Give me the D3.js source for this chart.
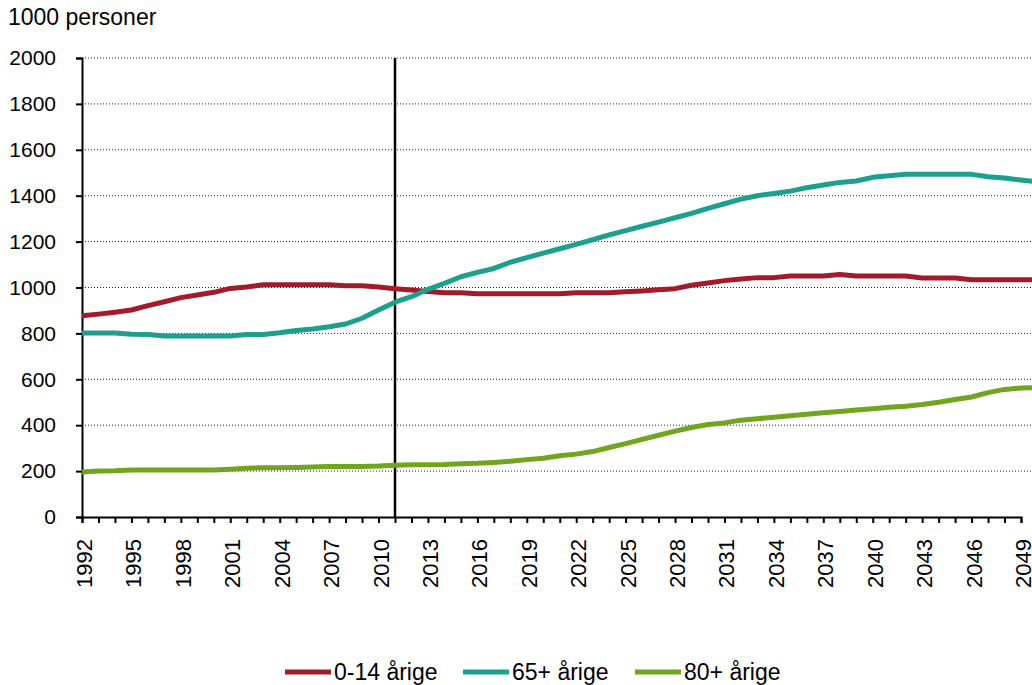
<!DOCTYPE html>
<html><head><meta charset="utf-8">
<script src="https://d3js.org/d3.v7.min.js"></script>
<style>body{margin:0;background:#fff}svg{display:block;font-family:"Liberation Sans",Arial,sans-serif}</style>
</head><body><svg id="c" width="1032" height="685"></svg>
<script>
const years = d3.range(1992, 2051);
const age0_14 = [877,884,892,902,921,938,956,967,979,996,1002,1012,1012,1012,1012,1012,1008,1008,1002,995,
  989,983,977,977,973,973,973,973,973,973,977,977,977,981,985,990,995,1010,1020,1030,1037,1043,1043,1050,1050,1050,1057,1050,1050,1050,1050,1041,1041,1041,1034,1034,1034,1034,1034];
const age65 = [802,802,802,796,795,789,789,789,789,789,795,795,803,813,819,829,841,866,902,936,
  960,992,1018,1047,1066,1083,1110,1130,1150,1169,1188,1208,1229,1248,1267,1285,1304,1323,1345,1365,1385,1400,1410,1420,1435,1447,1458,1464,1480,1487,1493,1493,1493,1493,1493,1483,1477,1468,1460];
const age80 = [196,200,201,205,205,205,205,205,205,208,212,215,215,216,218,220,220,220,222,226,
  228,228,229,232,234,238,243,250,256,267,274,285,303,320,338,356,374,390,403,410,422,428,435,441,448,454,460,466,472,478,483,490,500,512,523,542,556,562,563];
const seriesNames = ["0-14 årige","65+ årige","80+ årige"];
const seriesColors = ["#A31A2A","#1BA08E","#72A51E"];
const yTicks = [0,200,400,600,800,1000,1200,1400,1600,1800,2000];
const xLabelYears = d3.range(1992, 2050, 3);
const markerYear = 2011;

const svg = d3.select("#c");
const x = d3.scaleLinear().domain([1992, 2049]).range([82, 1021]);
const y = d3.scaleLinear().domain([0, 2000]).range([517, 58]);

// gridlines
svg.append("g").selectAll("line").data(yTicks.filter(d=>d>0)).join("line")
  .attr("x1", 82).attr("x2", 1032).attr("y1", d=>y(d)).attr("y2", d=>y(d))
  .attr("stroke", "#222").attr("stroke-width", 1).attr("stroke-dasharray", "1,2");

// y axis
const yAxis = svg.append("g").attr("transform", "translate(82,0)")
  .call(d3.axisLeft(y).tickValues(yTicks).tickSize(6).tickPadding(20).tickFormat(d3.format("d")));
yAxis.select(".domain").attr("stroke", "#000").attr("stroke-width", 2);
yAxis.selectAll(".tick line").attr("stroke", "#000").attr("stroke-width", 2);
yAxis.selectAll("text").attr("font-size", 21).attr("fill", "#000").attr("font-family", "Liberation Sans, Arial, sans-serif");

// x axis
const xAxis = svg.append("g").attr("transform", "translate(0,517)")
  .call(d3.axisBottom(x).tickValues(d3.range(1992, 2051)).tickSize(6).tickFormat(""));
xAxis.select(".domain").attr("stroke", "#000").attr("stroke-width", 2);
xAxis.selectAll(".tick line").attr("stroke", "#000").attr("stroke-width", 2);
svg.append("g").selectAll("text").data(xLabelYears).join("text")
  .attr("transform", d=>`translate(${x(d)+10},539) rotate(-90)`)
  .attr("text-anchor", "end").attr("font-size", 22).attr("fill", "#000")
  .text(d=>d);

// vertical marker
svg.append("line").attr("x1", x(markerYear)).attr("x2", x(markerYear))
  .attr("y1", y(2000)).attr("y2", y(0)).attr("stroke", "#000").attr("stroke-width", 2.5);

// lines
const line = d3.line().x((d,i)=>x(years[i])).y(d=>y(d));
[age0_14, age65, age80].forEach((s, k) => {
  svg.append("path").datum(s).attr("d", line).attr("fill", "none")
    .attr("stroke", seriesColors[k]).attr("stroke-width", 5).attr("stroke-linejoin", "round");
});

// title
svg.append("text").attr("x", 8).attr("y", 25).attr("font-size", 23).attr("fill", "#000").text("1000 personer");

// legend
const legX = [285, 463, 635];
seriesNames.forEach((n, k) => {
  const g = svg.append("g").attr("transform", `translate(${legX[k]},672)`);
  g.append("line").attr("x1", 0).attr("x2", 46).attr("stroke", seriesColors[k]).attr("stroke-width", 5);
  g.append("text").attr("x", 49).attr("y", 8).attr("font-size", 23).attr("fill", "#000").text(n);
});
</script></body></html>
